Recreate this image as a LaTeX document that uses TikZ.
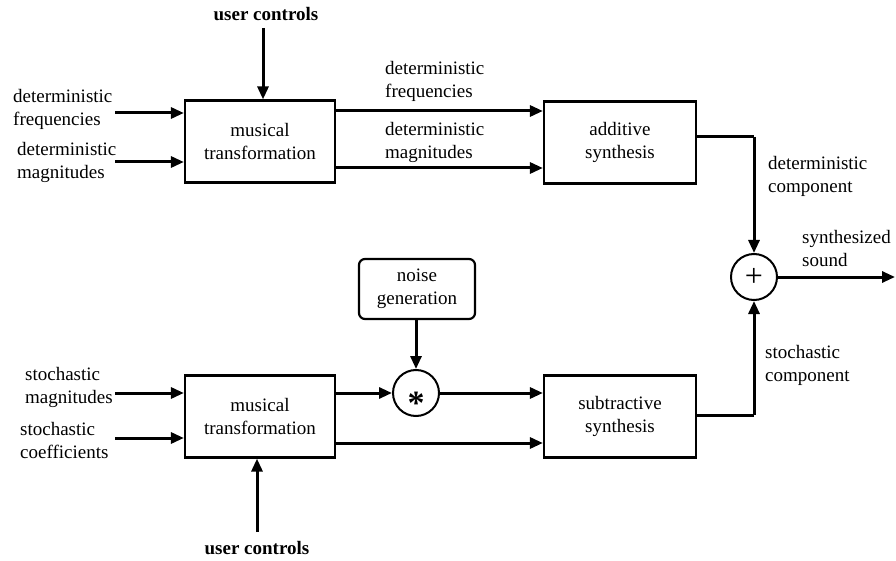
\documentclass[tikz,border=0pt]{standalone}
\usepackage{fontspec}
\setmainfont{Liberation Serif}
\usetikzlibrary{arrows.meta}
\begin{document}
\begin{tikzpicture}[x=1pt,y=-1pt,
  txt/.style={font=\fontsize{19}{23}\selectfont, inner sep=0pt},
  lbl/.style={txt, align=left, anchor=west},
  boxnode/.style={draw, line width=2.2pt, minimum width=150pt, minimum height=82pt, align=center, txt},
  rbox/.style={draw, line width=2.2pt, rounded corners=6pt, minimum width=116pt, minimum height=60pt, align=center, txt},
  opnode/.style={draw, circle, line width=2pt, minimum size=46pt, inner sep=0pt},
  conn/.style={line width=3pt, -{Triangle[length=13pt,width=11pt]}},
  wire/.style={line width=3pt}
]
\useasboundingbox (0,0) rectangle (896,561);

% blocks
\node[boxnode] (mt1) at (260,141.5) {musical\\transformation};
\node[boxnode, minimum width=152pt] (add) at (620,142.5) {additive\\synthesis};
\node[boxnode] (mt2) at (260,416.5) {musical\\transformation};
\node[boxnode, minimum width=152pt] (sub) at (620,416.5) {subtractive\\synthesis};
\node[rbox] (noise) at (417,289) {noise\\generation};
\node[opnode] (mul) at (416,393) {};
\node[txt, font=\fontsize{34}{34}\selectfont\bfseries] (mulsym) at (416,403) {*};
\node[opnode] (plus) at (754,277) {};
\node[txt, font=\fontsize{32}{32}\selectfont] (plussym) at (754,277) {+};

% user controls
\node[txt, font=\fontsize{19}{23}\selectfont\bfseries] (uc1) at (266,14) {user controls};
\node[txt, font=\fontsize{19}{23}\selectfont\bfseries] (uc2) at (257,548) {user controls};
\coordinate (uc1a) at (263,28);
\coordinate (uc2a) at (257,532);
\draw[conn] (uc1a) -- (uc1a |- mt1.north);
\draw[conn] (uc2a) -- (uc2a |- mt2.south);

% left inputs
\node[lbl] (ldf) at (13,109) {deterministic\\frequencies};
\node[lbl] (ldm) at (17,162) {deterministic\\magnitudes};
\node[lbl] (lsm) at (25,387) {stochastic\\magnitudes};
\node[lbl] (lsc) at (20,440) {stochastic\\coefficients};
\coordinate (idf) at (115,113);
\coordinate (idm) at (115,162);
\coordinate (ism) at (115,393);
\coordinate (isc) at (115,438);
\draw[conn] (idf) -- (idf -| mt1.west);
\draw[conn] (idm) -- (idm -| mt1.west);
\draw[conn] (ism) -- (ism -| mt2.west);
\draw[conn] (isc) -- (isc -| mt2.west);

% top middle
\coordinate (t1) at (335,111);
\coordinate (t2) at (335,168);
\draw[conn] (t1 -| mt1.east) -- (t1 -| add.west);
\draw[conn] (t2 -| mt1.east) -- (t2 -| add.west);
\node[lbl] (ldf2) at (385,81) {deterministic\\frequencies};
\node[lbl] (ldm2) at (385,142) {deterministic\\magnitudes};

% bottom middle
\coordinate (b2) at (335,443);
\draw[conn] (mul.west -| mt2.east) -- (mul.west);
\draw[conn] (mul.east) -- (mul.east -| sub.west);
\draw[conn] (b2 -| mt2.east) -- (b2 -| sub.west);
\draw[conn] (noise.south -| mul.north) -- (mul.north);

% right side
\coordinate (ao) at (696,137);
\coordinate (so) at (696,415);
\draw[wire] (ao -| add.east) -- (ao -| plus.north);
\draw[conn] (ao -| plus.north) -- (plus.north);
\draw[wire] (so -| sub.east) -- (so -| plus.south);
\draw[conn] (so -| plus.south) -- (plus.south);
\coordinate (outp) at (895,277);
\draw[conn] (plus.east) -- (outp);

\node[lbl] (ldc) at (768,176) {deterministic\\component};
\node[lbl] (lss) at (802,249) {synthesized\\sound};
\node[lbl] (lsc2) at (765,365) {stochastic\\component};
\end{tikzpicture}
\end{document}
